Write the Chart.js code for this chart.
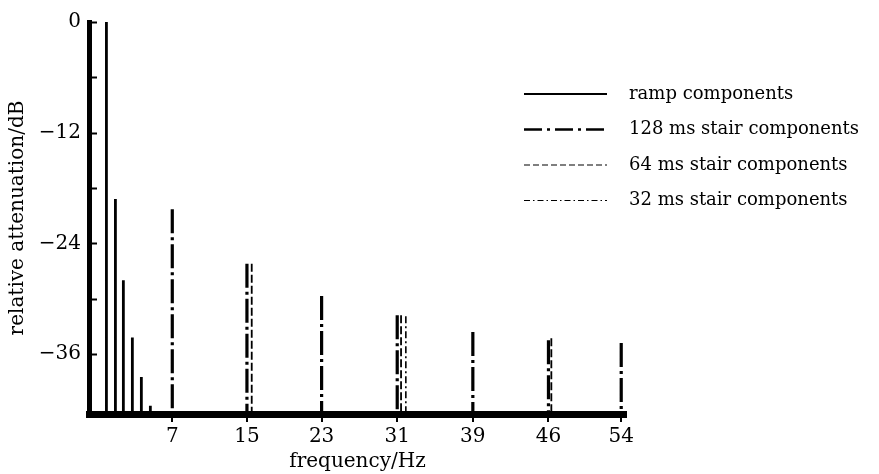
<!DOCTYPE html>
<html>
<head>
<meta charset="utf-8">
<script src="https://cdn.jsdelivr.net/npm/chart.js@4.4.1/dist/chart.umd.min.js"></script>
<style>
  html, body { margin: 0; padding: 0; background: #fff; }
  #wrap { width: 879px; height: 474px; }
</style>
</head>
<body>
<div id="wrap"><canvas id="myChart" width="879" height="474"></canvas></div>
<script>
// data (frequency in Hz, level in dB)
const rampFreqs = [0.92, 1.86, 2.69, 3.63, 4.57, 5.51];
const rampLevels = [0, -19.2, -28.0, -34.2, -38.5, -41.6];

const stair128Freqs = [7.8, 15.6, 23.4, 31.3, 39.2, 47.1, 54.7];
const stair128Levels = [-20.3, -26.2, -29.7, -31.8, -33.6, -34.5, -34.8];

const stair64Freqs = [16.1, 31.7, 47.4];
const stair64Levels = [-26.2, -31.8, -34.3];

const stair32Freqs = [32.2];
const stair32Levels = [-31.9];

const seriesNames = ['ramp components', '128 ms stair components', '64 ms stair components', '32 ms stair components'];

const xTickValues = [7.8, 15.6, 23.4, 31.3, 39.2, 47.1, 54.7];
const xTickLabels = ['7', '15', '23', '31', '39', '46', '54'];
const yTickValues = [0, -6, -12, -18, -24, -30, -36];

const Y_MIN = -42.5;
const SERIF = '"DejaVu Serif", "Liberation Serif", serif';

//each component is a vertical stroke from its level down to the axis
function stems(freqs, levels) {
    const pts = [];
    freqs.forEach(function (f, i) {
        pts.push({ x: f, y: levels[i] }, { x: f, y: Y_MIN }, { x: f, y: null });
    });
    return pts;
}

//inside ticks on the y axis
const innerTicks = {
    id: 'innerTicks',
    afterDatasetsDraw: function (chart) {
        const ctx = chart.ctx;
        const y = chart.scales.y;
        const left = chart.chartArea.left;
        ctx.save();
        ctx.strokeStyle = '#000';
        ctx.lineWidth = 2;
        yTickValues.forEach(function (v) {
            const py = Math.round(y.getPixelForValue(v)) + 0.5;
            ctx.beginPath();
            ctx.moveTo(left, py);
            ctx.lineTo(left + 8, py);
            ctx.stroke();
        });
        ctx.restore();
    }
};

//legend in the upper right, drawn with each dataset's own stroke
const sideLegend = {
    id: 'sideLegend',
    afterDraw: function (chart) {
        const ctx = chart.ctx;
        ctx.save();
        chart.data.datasets.forEach(function (ds, i) {
            const py = 94 + i * 35.5;
            ctx.strokeStyle = '#000';
            ctx.lineWidth = ds.legendWidth;
            ctx.setLineDash(ds.legendDash);
            ctx.beginPath();
            ctx.moveTo(524, py);
            ctx.lineTo(607, py);
            ctx.stroke();
            ctx.setLineDash([]);
            ctx.fillStyle = '#000';
            ctx.font = '18px ' + SERIF;
            ctx.textBaseline = 'middle';
            ctx.textAlign = 'left';
            ctx.fillText(ds.label, 629, py);
        });
        ctx.restore();
    }
};

const data = {
    datasets: [{
        label: seriesNames[0],
        data: stems(rampFreqs, rampLevels),
        borderColor: '#000',
        borderWidth: 2.8,
        borderDash: [],
        legendWidth: 2,
        legendDash: []
    }, {
        label: seriesNames[1],
        data: stems(stair128Freqs, stair128Levels),
        borderColor: '#000',
        borderWidth: 3.2,
        borderDash: [24, 4, 3, 4],
        legendWidth: 2.5,
        legendDash: [18, 5, 3, 5]
    }, {
        label: seriesNames[2],
        data: stems(stair64Freqs, stair64Levels),
        borderColor: '#000',
        borderWidth: 1.8,
        borderDash: [8, 3],
        legendWidth: 1.2,
        legendDash: [6, 3]
    }, {
        label: seriesNames[3],
        data: stems(stair32Freqs, stair32Levels),
        borderColor: '#000',
        borderWidth: 1.6,
        borderDash: [7, 3, 2, 3],
        legendWidth: 1.2,
        legendDash: [6, 3, 1.5, 3]
    }]
};

const config = {
    type: 'line',
    data: data,
    plugins: [innerTicks, sideLegend],
    options: {
        responsive: false,
        animation: false,
        spanGaps: false,
        elements: { point: { radius: 0 }, line: { tension: 0 } },
        layout: { padding: { left: 0, right: 253, top: 22, bottom: 0 } },
        plugins: { legend: { display: false }, tooltip: { enabled: false } },
        scales: {
            x: {
                type: 'linear',
                min: -0.9,
                max: 55.2,
                afterBuildTicks: function (scale) {
                    scale.ticks = xTickValues.map(function (v) { return { value: v }; });
                },
                afterFit: function (scale) { scale.height = 60; },
                border: { color: '#000', width: 7 },
                grid: { drawOnChartArea: false, drawTicks: true, tickLength: 8, color: '#000', lineWidth: 2 },
                ticks: {
                    autoSkip: false,
                    maxRotation: 0,
                    padding: 3,
                    color: '#000',
                    font: { family: SERIF, size: 20 },
                    callback: function (v, i) { return xTickLabels[i]; }
                },
                title: {
                    display: true,
                    text: 'frequency/Hz',
                    color: '#000',
                    font: { family: SERIF, size: 20 },
                    padding: { top: 0, bottom: 0 }
                }
            },
            y: {
                min: Y_MIN,
                max: 0,
                afterBuildTicks: function (scale) {
                    scale.ticks = yTickValues.map(function (v) { return { value: v }; });
                },
                afterFit: function (scale) { scale.width = 89; },
                border: { color: '#000', width: 5 },
                grid: { display: false, drawTicks: false },
                ticks: {
                    autoSkip: false,
                    padding: 8,
                    color: '#000',
                    font: { family: SERIF, size: 20 },
                    callback: function (v) {
                        if (v % 12 !== 0) return '';
                        return v === 0 ? '0' : '\u2212' + Math.abs(v);
                    }
                },
                title: {
                    display: true,
                    text: 'relative attenuation/dB',
                    color: '#000',
                    font: { family: SERIF, size: 20 },
                    padding: { top: 6, bottom: 0 }
                }
            }
        }
    }
};

const myChart = new Chart(document.getElementById('myChart'), config);
</script>
</body>
</html>
